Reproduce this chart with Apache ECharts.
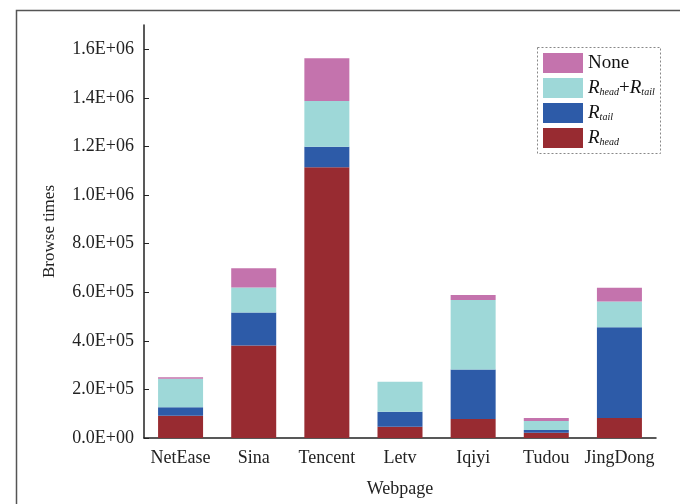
<!DOCTYPE html>
<html>
<head>
<meta charset="utf-8">
<script src="https://cdn.jsdelivr.net/npm/echarts@6/dist/echarts.min.js"></script>
<style>
  html, body { margin: 0; padding: 0; background: #fff; }
</style>
</head>
<body>
<div id="graph" style="width: 680px; height: 504px;"></div>
<script>
// data
const pages = ['NetEase', 'Sina', 'Tencent', 'Letv', 'Iqiyi', 'Tudou', 'JingDong']
const rHead = [92000, 381000, 1114000, 46000, 78000, 22000, 82000]
const rTail = [35000, 136000, 85000, 62000, 204000, 11000, 374000]
const rBoth = [117000, 103000, 188000, 124000, 286000, 37000, 106000]
const none = [6000, 79000, 176000, 0, 21000, 12000, 56000]

const serif = 'Liberation Serif'

// 1.6E+06 style labels
function sciLabel(v) {
  if (v === 0) return '0.0E+00'
  let exp = Math.floor(Math.log10(v))
  let man = v / Math.pow(10, exp)
  return man.toFixed(1) + 'E+' + (exp < 10 ? '0' + exp : exp)
}

const legendNames = {
  'None': 'None',
  'Rhead+Rtail': '{r|R}{s|head}{p|+}{r|R}{s|tail}',
  'Rtail': '{r|R}{s|tail}',
  'Rhead': '{r|R}{s|head}'
}

let graph = echarts.init(document.getElementById('graph'))

const barBase = {
  type: 'bar',
  stack: 'total',
  barWidth: 45,
  emphasis: { disabled: true }
}

graph.setOption({
  backgroundColor: '#fff',
  animation: false,
  textStyle: { fontFamily: serif },
  grid: { left: 144, right: 24, top: 25, bottom: 66 },
  legend: {
    orient: 'vertical',
    left: 538,
    top: 48,
    itemWidth: 40,
    itemHeight: 20,
    itemGap: 5,
    icon: 'rect',
    data: ['None', 'Rhead+Rtail', 'Rtail', 'Rhead'],
    formatter: name => legendNames[name],
    textStyle: {
      fontFamily: serif,
      fontSize: 19,
      color: '#111',
      rich: {
        r: { fontFamily: serif, fontStyle: 'italic', fontSize: 19, color: '#111' },
        s: { fontFamily: serif, fontStyle: 'italic', fontSize: 10, color: '#111', verticalAlign: 'bottom', padding: [6, 0, 0, 0] },
        p: { fontFamily: serif, fontSize: 19, color: '#111' }
      }
    }
  },
  graphic: [
    // outer frame of the figure
    {
      type: 'rect',
      shape: { x: 16.5, y: 10.5, width: 700, height: 520 },
      style: { fill: 'none', stroke: '#555', lineWidth: 1.5 },
      silent: true
    },
    // dashed legend box
    {
      type: 'rect',
      shape: { x: 537.5, y: 47.5, width: 123, height: 106 },
      style: { fill: 'none', stroke: '#888', lineWidth: 1, lineDash: [2, 2] },
      silent: true
    }
  ],
  xAxis: {
    type: 'category',
    data: pages,
    name: 'Webpage',
    nameLocation: 'middle',
    nameGap: 42,
    nameTextStyle: { fontFamily: serif, fontSize: 18, color: '#222' },
    axisLine: { lineStyle: { color: '#222', width: 1.5 } },
    axisTick: { show: true, inside: true, alignWithLabel: true, length: 5, lineStyle: { color: '#222' } },
    axisLabel: { interval: 0, fontFamily: serif, fontSize: 18, color: '#222', margin: 11 }
  },
  yAxis: {
    type: 'value',
    min: 0,
    max: 1700000,
    interval: 200000,
    name: 'Browse times',
    nameLocation: 'middle',
    nameGap: 86,
    nameTextStyle: { fontFamily: serif, fontSize: 17, color: '#222' },
    splitLine: { show: false },
    axisLine: { show: true, lineStyle: { color: '#222', width: 1.5 } },
    axisTick: { show: true, inside: true, length: 5, lineStyle: { color: '#222' } },
    axisLabel: {
      fontFamily: serif,
      fontSize: 18,
      color: '#222',
      margin: 10,
      showMaxLabel: false,
      formatter: sciLabel
    }
  },
  series: [
    Object.assign({ name: 'Rhead', data: rHead, itemStyle: { color: '#982b31' } }, barBase),
    Object.assign({ name: 'Rtail', data: rTail, itemStyle: { color: '#2d5ba8' } }, barBase),
    Object.assign({ name: 'Rhead+Rtail', data: rBoth, itemStyle: { color: '#9ed8d8' } }, barBase),
    Object.assign({ name: 'None', data: none, itemStyle: { color: '#c473ad' } }, barBase)
  ]
})
</script>
</body>
</html>
